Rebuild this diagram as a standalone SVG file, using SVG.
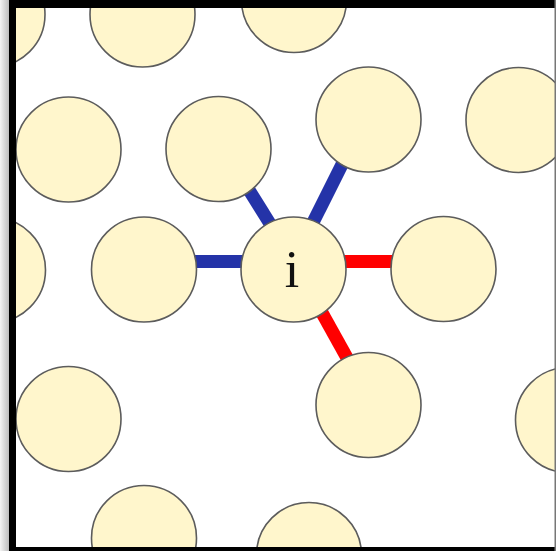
<svg xmlns="http://www.w3.org/2000/svg" width="556" height="551" viewBox="0 0 556 551">
  <defs>
    <style>
      .site { fill: #FFF6CC; stroke: #5c5c5c; stroke-width: 1.6; }
      .bond { stroke-width: 13; stroke-linecap: butt; fill: none; }
      .blue { stroke: #2433A8; }
      .red { stroke: #FF0000; }
      .label { font-family: "Liberation Serif", "Times New Roman", serif; font-size: 52px; fill: #111; text-anchor: middle; }
    </style>
    <linearGradient id="shade" x1="0" y1="0" x2="1" y2="0">
      <stop offset="0" stop-color="#f4f4f4"/>
      <stop offset="1" stop-color="#bdbdbd"/>
    </linearGradient>
    <clipPath id="panel">
      <rect x="16" y="8" width="539" height="539"/>
    </clipPath>
  </defs>

  <!-- page and drop shadow -->
  <rect x="0" y="0" width="556" height="551" fill="#ffffff"/>
  <rect x="0" y="0" width="9" height="551" fill="url(#shade)"/>

  <g clip-path="url(#panel)">
    <!-- bonds from site i to its neighbours -->
    <g id="connectors">
      <line class="bond blue" x1="293.5" y1="261.5" x2="144" y2="261.5"/>
      <line class="bond blue" x1="293.5" y1="261.5" x2="218.5" y2="141"/>
      <line class="bond blue" x1="293.5" y1="261.5" x2="368.5" y2="111.5"/>
      <line class="bond red" x1="293.5" y1="261.5" x2="443.5" y2="261.5"/>
      <line class="bond red" x1="293.5" y1="261.5" x2="368.5" y2="396.5"/>
    </g>

    <!-- lattice sites -->
    <g id="site-r1c0"><circle class="site" cx="-7.5" cy="14.5" r="52.5"/></g>
    <g id="site-r1c1"><circle class="site" cx="142.5" cy="14.5" r="52.5"/></g>
    <g id="site-r1c2"><circle class="site" cx="294" cy="0" r="52.5"/></g>

    <g id="site-r2c0"><circle class="site" cx="68.5" cy="149.5" r="52.5"/></g>
    <g id="site-r2c1"><circle class="site" cx="218.5" cy="149" r="52.5"/></g>
    <g id="site-r2c2"><circle class="site" cx="368.5" cy="119.5" r="52.5"/></g>
    <g id="site-r2c3"><circle class="site" cx="518.5" cy="120" r="52.5"/></g>

    <g id="site-r3c0"><circle class="site" cx="-7" cy="270" r="52.5"/></g>
    <g id="site-r3c1"><circle class="site" cx="144" cy="269.5" r="52.5"/></g>
    <g id="site-i">
      <circle class="site" cx="293.5" cy="269.5" r="52.5"/>
      <text class="label" x="292" y="287">i</text>
    </g>
    <g id="site-r3c3"><circle class="site" cx="443.5" cy="269" r="52.5"/></g>

    <g id="site-r4c0"><circle class="site" cx="68.5" cy="419" r="52.5"/></g>
    <g id="site-r4c2"><circle class="site" cx="368.5" cy="405" r="52.5"/></g>
    <g id="site-r4c3"><circle class="site" cx="568" cy="420" r="52.5"/></g>

    <g id="site-r5c1"><circle class="site" cx="144" cy="538" r="52.5"/></g>
    <g id="site-r5c2"><circle class="site" cx="309" cy="555" r="52.5"/></g>
  </g>

  <!-- frame -->
  <rect x="9" y="0" width="7" height="551" fill="#000"/>
  <rect x="9" y="0" width="547" height="8" fill="#000"/>
  <rect x="9" y="547" width="547" height="4" fill="#000"/>
  <rect x="554.5" y="0" width="1.5" height="551" fill="#777"/>
</svg>
